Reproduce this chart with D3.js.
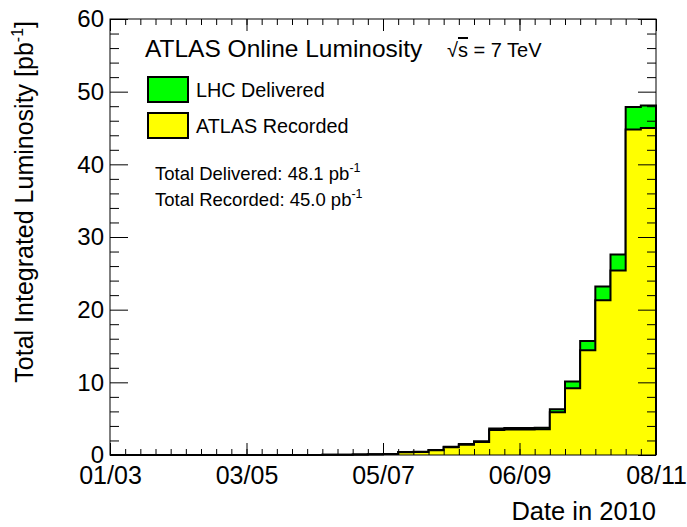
<!DOCTYPE html>
<html><head><meta charset="utf-8">
<script src="https://cdn.jsdelivr.net/npm/d3@7"></script>
<style>
body{margin:0;background:#fff}
svg{display:block}
text{font-family:"Liberation Sans",Arial,Helvetica,sans-serif;fill:#000}
</style>
</head><body>
<svg id="c" width="687" height="527"></svg>
<script>
// ---- data ----
const weekStarts = ["2010-03-01","2010-03-08","2010-03-15","2010-03-22","2010-03-29","2010-04-05","2010-04-12","2010-04-19","2010-04-26",
  "2010-05-03","2010-05-10","2010-05-17","2010-05-24","2010-05-31","2010-06-07","2010-06-14","2010-06-21","2010-06-28",
  "2010-07-05","2010-07-12","2010-07-19","2010-07-26","2010-08-02","2010-08-09","2010-08-16","2010-08-23","2010-08-30",
  "2010-09-06","2010-09-13","2010-09-20","2010-09-27","2010-10-04","2010-10-11","2010-10-18","2010-10-25","2010-11-01"];
const endDate = "2010-11-08";
const delivered = [0,0,0,0,0.0001,0.0003,0.0006,0.001,0.002,0.004,0.006,0.008,0.012,0.016,0.02,0.03,0.07,0.1,
  0.15,0.40,0.45,0.70,1.15,1.50,1.90,3.65,3.70,3.72,3.75,6.30,10.1,15.7,23.2,27.6,47.9,48.1];
const recorded = [0,0,0,0,0.0001,0.0003,0.0005,0.0009,0.0018,0.0036,0.0054,0.0072,0.011,0.014,0.018,0.027,0.063,0.09,
  0.135,0.37,0.42,0.66,1.08,1.42,1.80,3.45,3.50,3.52,3.55,5.90,9.20,14.4,21.3,25.4,44.8,45.0];
const xTickDates = ["2010-03-01","2010-05-03","2010-07-05","2010-09-06","2010-11-08"];
const xTickLabels = ["01/03","03/05","05/07","06/09","08/11"];
const yTicks = [0,10,20,30,40,50,60];
const yMinorTicks = [2,4,6,8,12,14,16,18,22,24,26,28,32,34,36,38,42,44,46,48,52,54,56,58];
const seriesNames = ["LHC Delivered","ATLAS Recorded"];
const totals = ["48.1","45.0"];

// ---- layout ----
const X0=110, X1=656, Y0=19, Y1=455;
const parse = d3.timeParse("%Y-%m-%d");
const svg = d3.select("#c");
const x = d3.scaleTime().domain([parse(weekStarts[0]), parse(endDate)]).range([X0, X1]);
const y = d3.scaleLinear().domain([0,60]).range([Y1, Y0]);

function stepPoints(vals){
  const pts = vals.map((v,i)=>({t:parse(weekStarts[i]), v}));
  pts.push({t:parse(endDate), v:vals[vals.length-1]});
  return pts;
}
function outlinePoints(vals){
  const pts = stepPoints(vals);
  return [{t:pts[0].t, v:0}, ...pts, {t:pts[pts.length-1].t, v:0}];
}
const area = d3.area().curve(d3.curveStepAfter).x(d=>x(d.t)).y0(y(0)).y1(d=>y(d.v));
const line = d3.line().curve(d3.curveStepAfter).x(d=>x(d.t)).y(d=>y(d.v));

const colors = ["#00ff00","#ffff00"];
[delivered, recorded].forEach((vals,i)=>{
  svg.append("path").attr("d", area(stepPoints(vals))).attr("fill", colors[i]);
  svg.append("path").attr("d", line(outlinePoints(vals))).attr("fill","none")
     .attr("stroke","#000").attr("stroke-width",2).attr("stroke-linejoin","miter");
});

// ---- axes ----
const weekDates = weekStarts.map(parse).concat([parse(endDate)]);
const majorX = xTickDates.map(parse);
function styleAxis(g){ g.select(".domain").remove(); g.selectAll("line").attr("stroke","#000"); }

// bottom
svg.append("g").attr("transform",`translate(0,${Y1})`)
  .call(d3.axisBottom(x).tickValues(weekDates).tickFormat("").tickSizeInner(-6).tickSizeOuter(0)).call(styleAxis);
const bx = svg.append("g").attr("transform",`translate(0,${Y1})`)
  .call(d3.axisBottom(x).tickValues(majorX).tickFormat((d,i)=>xTickLabels[i]).tickSizeInner(-12).tickSizeOuter(0).tickPadding(11)).call(styleAxis);
bx.selectAll("text").attr("font-size",25).attr("fill","#000").style("font-family",'"Liberation Sans",Arial,sans-serif');
// top
svg.append("g").attr("transform",`translate(0,${Y0})`)
  .call(d3.axisTop(x).tickValues(weekDates).tickFormat("").tickSizeInner(-6).tickSizeOuter(0)).call(styleAxis);
svg.append("g").attr("transform",`translate(0,${Y0})`)
  .call(d3.axisTop(x).tickValues(majorX).tickFormat("").tickSizeInner(-12).tickSizeOuter(0)).call(styleAxis);
// left
svg.append("g").attr("transform",`translate(${X0},0)`)
  .call(d3.axisLeft(y).tickValues(yMinorTicks).tickFormat("").tickSizeInner(-9).tickSizeOuter(0)).call(styleAxis);
const ly = svg.append("g").attr("transform",`translate(${X0},0)`)
  .call(d3.axisLeft(y).tickValues(yTicks).tickFormat(d3.format("d")).tickSizeInner(-18).tickSizeOuter(0).tickPadding(6)).call(styleAxis);
ly.selectAll("text").attr("font-size",24).attr("fill","#000").style("font-family",'"Liberation Sans",Arial,sans-serif');
// right
svg.append("g").attr("transform",`translate(${X1},0)`)
  .call(d3.axisRight(y).tickValues(yMinorTicks).tickFormat("").tickSizeInner(-9).tickSizeOuter(0)).call(styleAxis);
svg.append("g").attr("transform",`translate(${X1},0)`)
  .call(d3.axisRight(y).tickValues(yTicks).tickFormat("").tickSizeInner(-18).tickSizeOuter(0)).call(styleAxis);

// frame
svg.append("rect").attr("x",X0).attr("y",Y0).attr("width",X1-X0).attr("height",Y1-Y0)
  .attr("fill","none").attr("stroke","#000").attr("stroke-width",1);

// axis titles
svg.append("text").attr("x",X1).attr("y",520).attr("text-anchor","end").attr("font-size",25.5).text("Date in 2010");
const yt = svg.append("text").attr("transform",`translate(33,${Y0+2}) rotate(-90)`).attr("text-anchor","end").attr("font-size",25);
yt.append("tspan").text("Total Integrated Luminosity [pb");
yt.append("tspan").attr("font-size",16).attr("dy",-10).text("-1");
yt.append("tspan").attr("dy",10).text("]");

// legend
svg.append("text").attr("x",145).attr("y",57).attr("font-size",24.5).text("ATLAS Online Luminosity");
const sq = svg.append("text").attr("x",447).attr("y",57).attr("font-size",20);
sq.append("tspan").text("\u221A");
sq.append("tspan").style("text-decoration","overline").text("s");
sq.append("tspan").text(" = 7 TeV");

seriesNames.forEach((n,i)=>{
  const yy = 77 + i*36;
  svg.append("rect").attr("x",148).attr("y",yy).attr("width",40).attr("height",25)
    .attr("fill",colors[i]).attr("stroke","#000").attr("stroke-width",2);
  svg.append("text").attr("x",196).attr("y",yy+20).attr("font-size",19.8).text(n);
});
["Total Delivered: ","Total Recorded: "].forEach((lab,i)=>{
  const t = svg.append("text").attr("x",155).attr("y",180 + i*26).attr("font-size",18.5);
  t.append("tspan").text(lab + totals[i] + " pb");
  t.append("tspan").attr("font-size",12.5).attr("dy",-8).text("-1");
});
</script>
</body></html>
